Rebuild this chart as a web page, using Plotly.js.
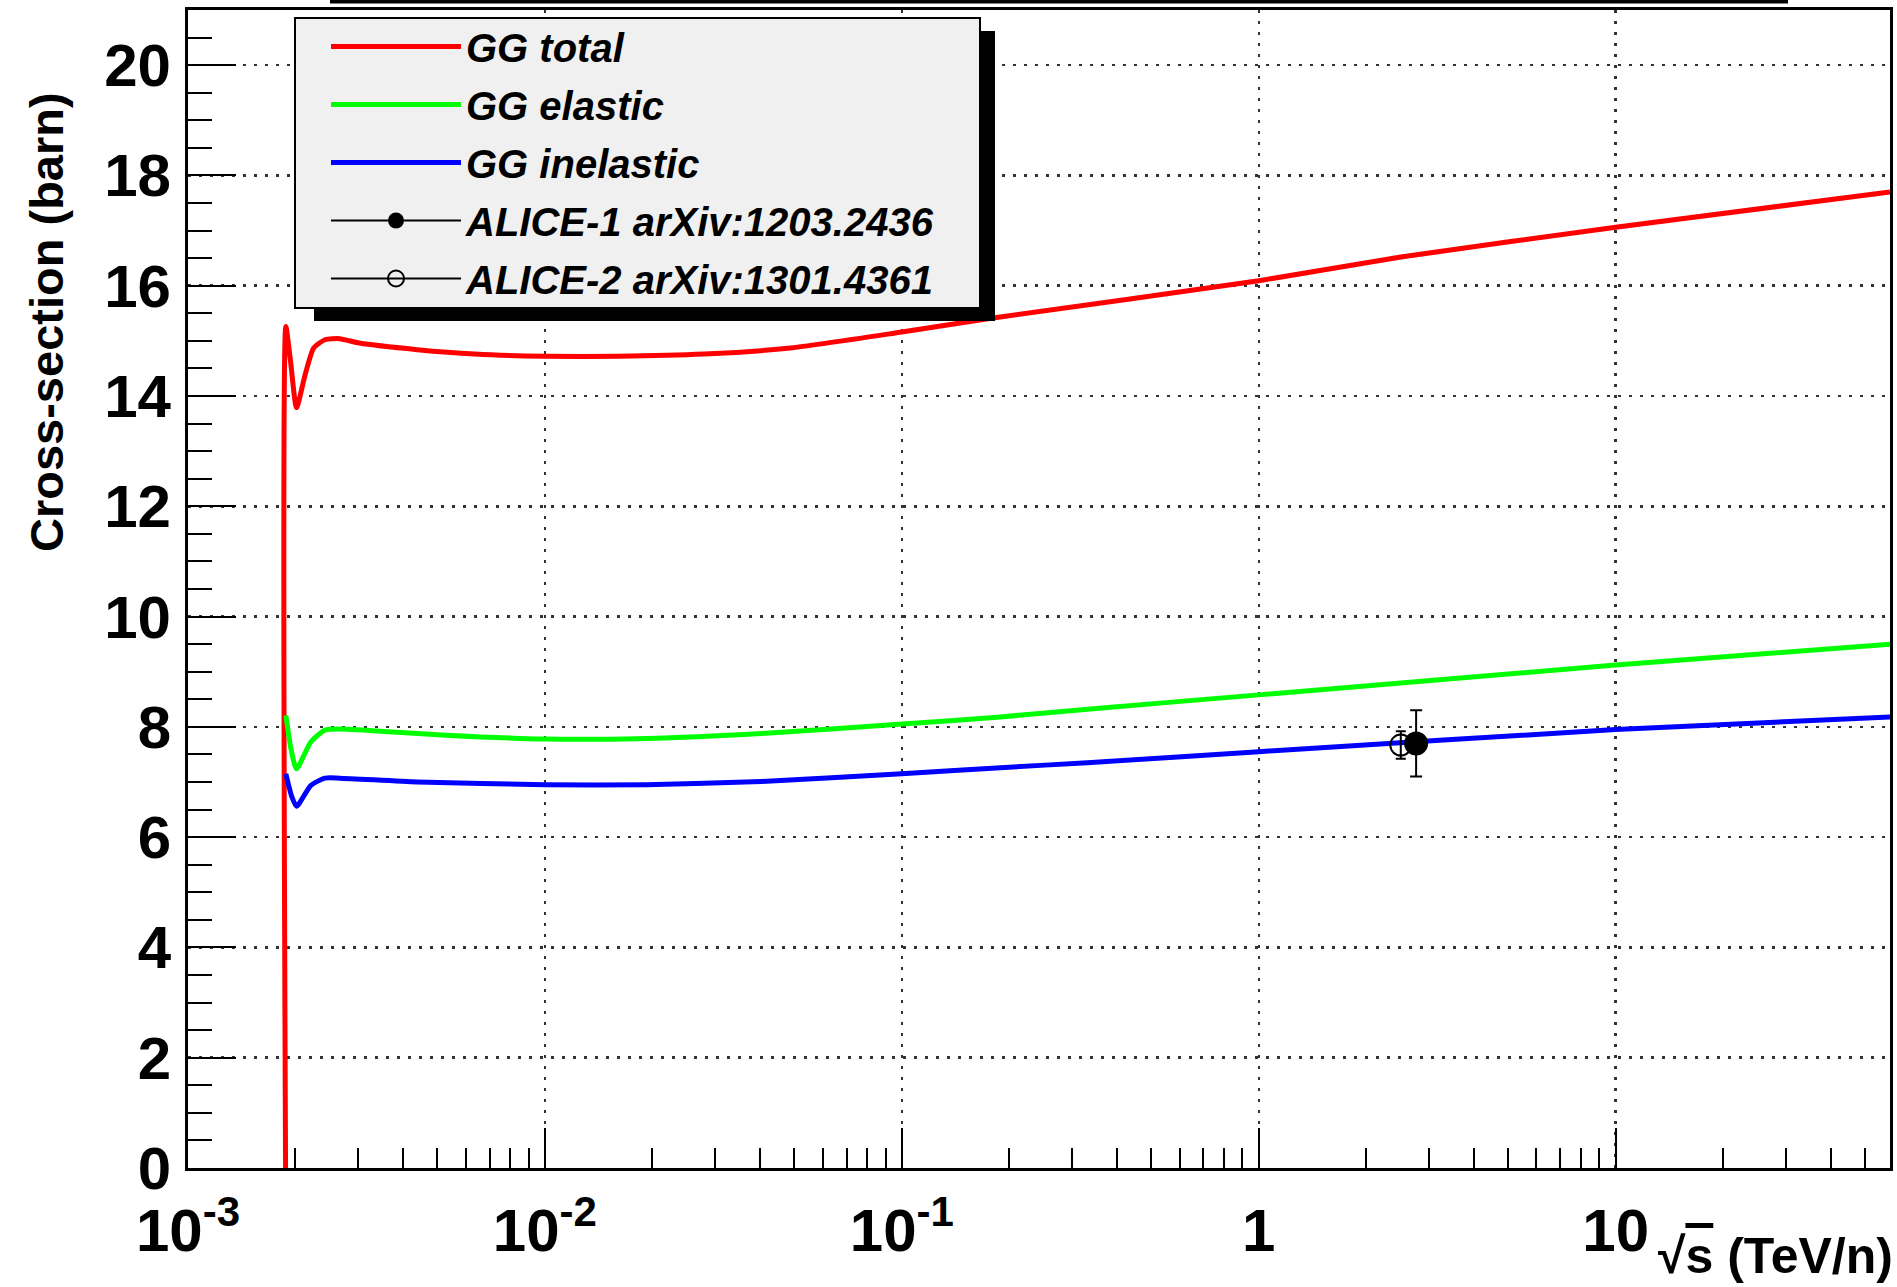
<!DOCTYPE html>
<html>
<head>
<meta charset="utf-8">
<script src="https://cdn.plot.ly/plotly-3.0.1.min.js"></script>
<style>
html,body{margin:0;padding:0;background:#ffffff;}
#chart{width:1897px;height:1287px;}
</style>
</head>
<body>
<div id="chart"></div>
<script>
// ---------------- data ----------------
// sqrt(s) in TeV per nucleon, cross-sections in barn
const totalX = [0.0018765, 0.00188, 0.00194, 0.002014, 0.00213, 0.00225, 0.00242, 0.00266, 0.00302, 0.00439, 0.00635, 0.01, 0.016, 0.0279, 0.0487, 0.1, 0.178, 1, 2.5, 10, 58.7];
const totalY = [0, 15.26, 14.6, 13.79, 14.39, 14.87, 15.02, 15.04, 14.96, 14.84, 14.76, 14.72, 14.72, 14.76, 14.87, 15.16, 15.41, 16.09, 16.52, 17.06, 17.70];

const elasticX = [0.00188, 0.00195, 0.002014, 0.00221, 0.00242, 0.00266, 0.00365, 0.00526, 0.01, 0.01925, 0.0404, 0.1, 0.1888, 0.331, 1, 10, 58.7];
const elasticY = [8.21, 7.55, 7.24, 7.73, 7.94, 7.96, 7.91, 7.85, 7.78, 7.79, 7.88, 8.05, 8.18, 8.32, 8.58, 9.12, 9.50];

const inelasticX = [0.00188, 0.00195, 0.002014, 0.00221, 0.00242, 0.00266, 0.00439, 0.01, 0.01925, 0.0404, 0.1, 0.1888, 0.331, 1, 10, 58.7];
const inelasticY = [7.15, 6.75, 6.56, 6.94, 7.07, 7.07, 7.00, 6.95, 6.95, 7.01, 7.15, 7.26, 7.35, 7.55, 7.95, 8.18];

const alice1X = [2.76];
const alice1Y = [7.7];
const alice1ErrUp = [0.6];
const alice1ErrDown = [0.6];

const alice2X = [2.5];
const alice2Y = [7.67];
const alice2Err = [0.25];

const seriesNames = ['GG total', 'GG elastic', 'GG inelastic', 'ALICE-1 arXiv:1203.2436', 'ALICE-2 arXiv:1301.4361'];

const xTickVals = [0.001, 0.01, 0.1, 1, 10];
const xTickText = ['10<sup>-3</sup>', '10<sup>-2</sup>', '10<sup>-1</sup>', '1', '10'];
const yTickVals = [0, 2, 4, 6, 8, 10, 12, 14, 16, 18, 20];
const yTickText = ['0', '2', '4', '6', '8', '10', '12', '14', '16', '18', '20'];

const xAxisTitle = '√<span style="text-decoration:overline">s</span> (TeV/n)';
const yAxisTitle = 'Cross-section (barn)';
const xMin = 0.001, xMax = 58.7;
const yMin = 0, yMax = 21;

// ---------------- layout geometry ----------------
const W = 1897, H = 1287;
const M = {l: 188, r: 7, t: 10, b: 119};
const PW = W - M.l - M.r, PH = H - M.t - M.b;
const px2x = p => (p - M.l) / PW;
const py2y = p => (H - M.b - p) / PH;

const FONT = 'Liberation Sans, Arial, Helvetica, sans-serif';

const traces = [
  {x: totalX, y: totalY, name: seriesNames[0], legendgroup: 'g0', type: 'scatter', mode: 'lines',
   line: {color: '#ff0000', width: 5, shape: 'spline', smoothing: 0.6}},
  {x: elasticX, y: elasticY, name: seriesNames[1], legendgroup: 'g1', type: 'scatter', mode: 'lines',
   line: {color: '#00ff00', width: 5, shape: 'spline', smoothing: 0.6}},
  {x: inelasticX, y: inelasticY, name: seriesNames[2], legendgroup: 'g2', type: 'scatter', mode: 'lines',
   line: {color: '#0000ff', width: 5, shape: 'spline', smoothing: 0.6}},
  {x: alice1X, y: alice1Y, name: seriesNames[3], legendgroup: 'g3', type: 'scatter', mode: 'lines+markers',
   line: {color: '#000000', width: 2},
   marker: {symbol: 'circle', size: 24, color: '#000000'},
   error_y: {type: 'data', symmetric: false, array: alice1ErrUp, arrayminus: alice1ErrDown,
             color: '#000000', thickness: 2, width: 6}},
  {x: alice2X, y: alice2Y, name: seriesNames[4], legendgroup: 'g4', type: 'scatter', mode: 'lines+markers',
   line: {color: '#000000', width: 2},
   marker: {symbol: 'circle-open', size: 21, color: '#000000', line: {color: '#000000', width: 2}},
   error_y: {type: 'data', array: alice2Err, color: '#000000', thickness: 2, width: 5}}
];

const layout = {
  width: W, height: H,
  margin: M,
  paper_bgcolor: '#ffffff',
  plot_bgcolor: '#ffffff',
  showlegend: true,
  font: {family: FONT, color: '#000000'},
  xaxis: {
    type: 'log',
    range: [Math.log10(xMin), Math.log10(xMax)],
    tickmode: 'array', tickvals: xTickVals, ticktext: xTickText,
    ticks: 'inside', ticklen: 40, tickwidth: 2, tickcolor: '#000000',
    minor: {ticks: 'inside', ticklen: 20, tickwidth: 2, tickcolor: '#000000', dtick: 'D1', showgrid: false},
    tickfont: {family: FONT, size: 60, weight: 'bold', color: '#000000'},
    ticklabelstandoff: 8,
    showline: true, linewidth: 3, linecolor: '#000000', mirror: true,
    showgrid: true, gridcolor: '#333333', gridwidth: 2.5, griddash: '3px,8px',
    zeroline: false
  },
  yaxis: {
    range: [yMin, yMax],
    tickmode: 'array', tickvals: yTickVals, ticktext: yTickText,
    ticks: 'inside', ticklen: 48, tickwidth: 2, tickcolor: '#000000',
    minor: {ticks: 'inside', ticklen: 24, tickwidth: 2, tickcolor: '#000000', dtick: 0.5, tick0: 0, showgrid: false},
    tickfont: {family: FONT, size: 60, weight: 'bold', color: '#000000'},
    ticklabelstandoff: 2,
    showline: true, linewidth: 3, linecolor: '#000000', mirror: true,
    showgrid: true, gridcolor: '#333333', gridwidth: 2.5, griddash: '3px,8px',
    zeroline: false
  },
  legend: {
    x: px2x(326), y: py2y(14), xanchor: 'left', yanchor: 'top',
    bgcolor: 'rgba(0,0,0,0)', borderwidth: 0,
    font: {family: FONT, size: 40, weight: 'bold', style: 'italic', color: '#000000'},
    itemwidth: 130, tracegroupgap: 3
  },
  shapes: [
    // legend drop shadow
    {type: 'rect', xref: 'paper', yref: 'paper', layer: 'above',
     x0: px2x(314), x1: px2x(995), y0: py2y(321), y1: py2y(31),
     fillcolor: '#000000', line: {width: 0}},
    // legend box
    {type: 'rect', xref: 'paper', yref: 'paper', layer: 'above',
     x0: px2x(295), x1: px2x(980), y0: py2y(308), y1: py2y(18),
     fillcolor: '#f0f0f0', line: {color: '#000000', width: 2}},
    // bottom edge of the (cut-off) title box at the top of the canvas
    {type: 'rect', xref: 'paper', yref: 'paper', layer: 'above',
     x0: px2x(330), x1: px2x(1788), y0: py2y(3.5), y1: py2y(0),
     fillcolor: '#000000', line: {width: 0}}
  ],
  annotations: [
    {text: yAxisTitle, xref: 'paper', yref: 'paper', x: px2x(46), y: py2y(90),
     xanchor: 'center', yanchor: 'top', textangle: -90, showarrow: false,
     font: {family: FONT, size: 47, weight: 'bold', color: '#000000'}},
    {text: xAxisTitle, xref: 'paper', yref: 'paper', x: px2x(1895), y: py2y(1286),
     xanchor: 'right', yanchor: 'bottom', showarrow: false,
     font: {family: FONT, size: 50, weight: 'bold', color: '#000000'}}
  ]
};

Plotly.newPlot('chart', traces, layout, {displayModeBar: false, staticPlot: true});
</script>
</body>
</html>
